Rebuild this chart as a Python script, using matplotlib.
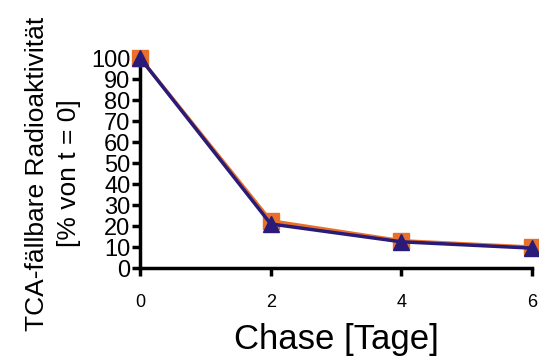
import matplotlib
matplotlib.use("Agg")
import matplotlib.pyplot as plt

plt.rcParams['font.family'] = ['Liberation Sans', 'DejaVu Sans']

days = [0, 2, 4, 6]
series_orange = [100, 22.5, 13, 10]
series_blue = [100, 21, 12.5, 9.5]
yticks = list(range(0, 101, 10))

fig = plt.figure(figsize=(5.39, 3.56), dpi=100)
ax = fig.add_axes([0.26, 0.247, 0.727, 0.59])

ax.plot(days, series_orange, color='#E8702A', lw=2.5, marker='s', ms=11,
        mec='#E8702A', clip_on=False, zorder=3)
ax.plot(days, series_blue, color='#2A1B78', lw=2.5, marker='^', ms=11,
        mec='#2A1B78', clip_on=False, zorder=4)

ax.set_xlim(0, 6)
ax.set_ylim(0, 100)
ax.set_xticks(days)
ax.set_yticks(yticks)
for side in ['top', 'right']:
    ax.spines[side].set_visible(False)
for side in ['left', 'bottom']:
    ax.spines[side].set_linewidth(2.5)
ax.tick_params(axis='y', direction='out', length=6, width=2.5, labelsize=17, pad=1)
ax.tick_params(axis='x', direction='out', length=6, width=2.5, labelsize=13, pad=13)

ax.set_xlabel('Chase [Tage]', fontsize=25, labelpad=8)
ax.set_ylabel('TCA-fällbare Radioaktivität\n[% von t = 0]', fontsize=19,
              linespacing=1.45, labelpad=7)
ax.yaxis.label.set_y(0.45)

fig.savefig('out.png', dpi=100)
